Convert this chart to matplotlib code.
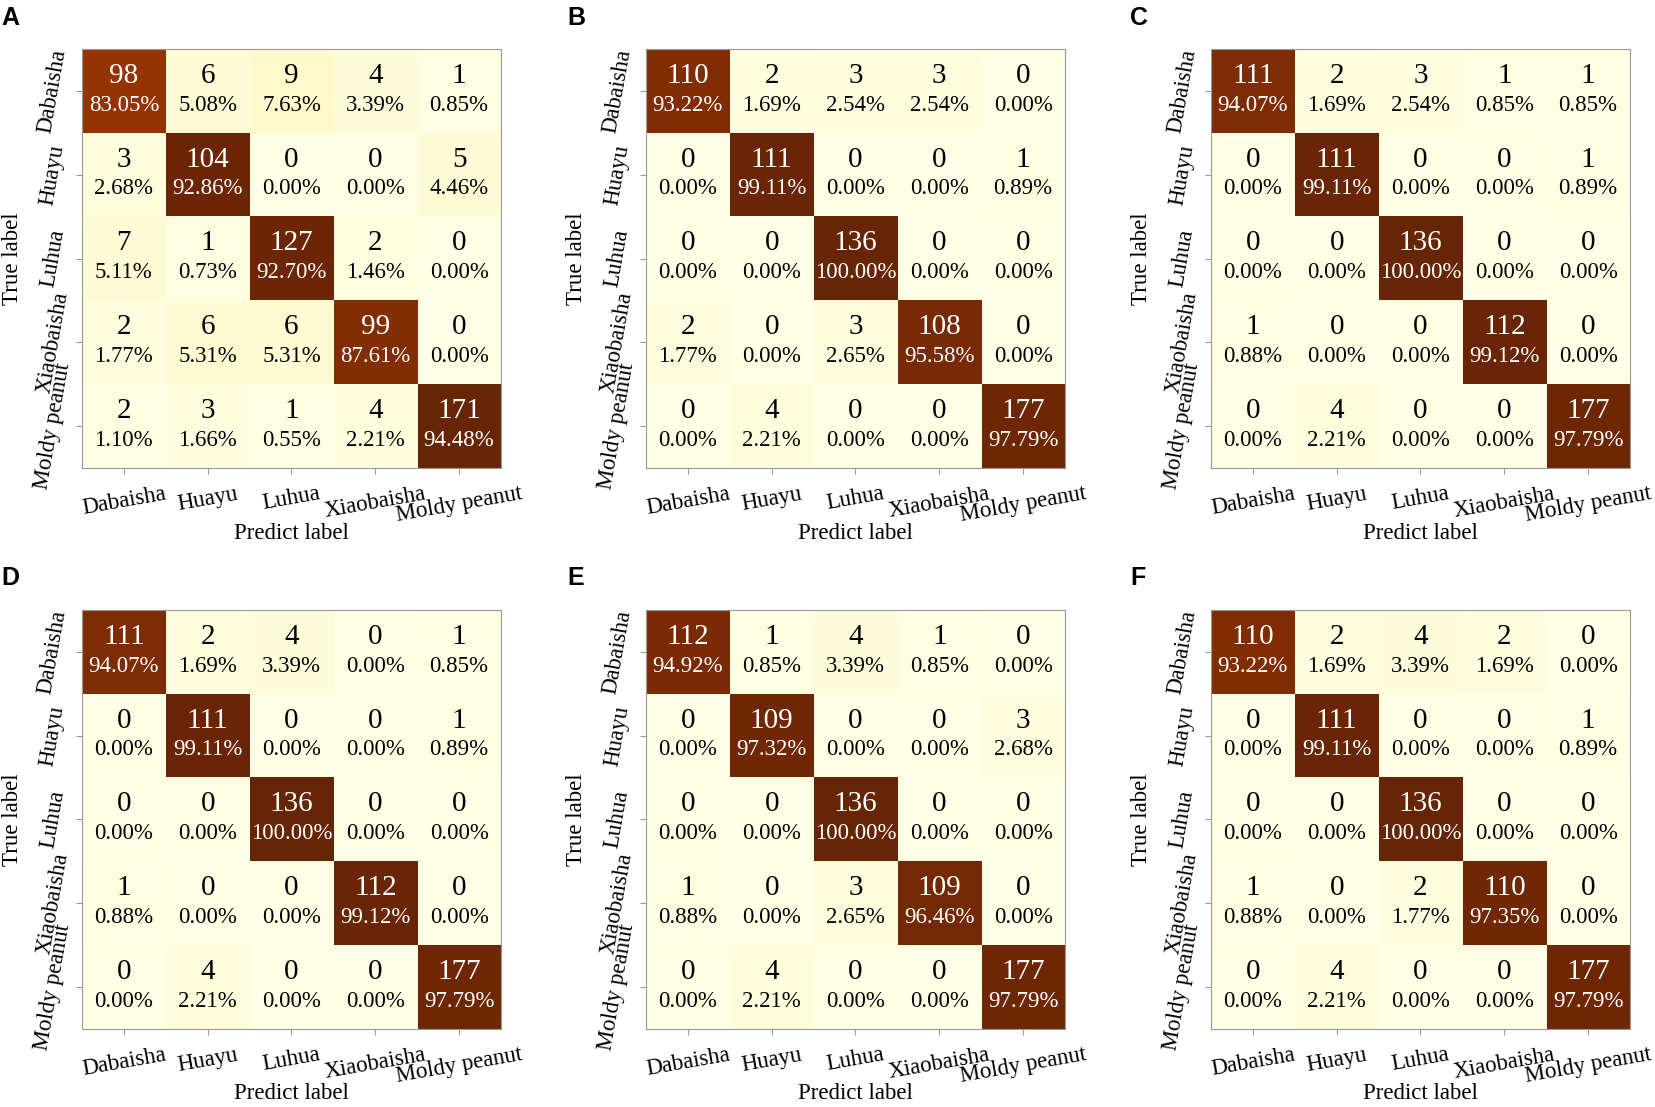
import numpy as np
import matplotlib
matplotlib.use("Agg")
from matplotlib import pyplot as plt

plt.rcParams['font.family'] = ['Liberation Serif', 'DejaVu Serif']

classes = ['Dabaisha', 'Huayu', 'Luhua', 'Xiaobaisha', 'Moldy peanut']
panel_names = ['A', 'B', 'C', 'D', 'E', 'F']

cm_A = [[98, 6, 9, 4, 1],
        [3, 104, 0, 0, 5],
        [7, 1, 127, 2, 0],
        [2, 6, 6, 99, 0],
        [2, 3, 1, 4, 171]]
cm_B = [[110, 2, 3, 3, 0],
        [0, 111, 0, 0, 1],
        [0, 0, 136, 0, 0],
        [2, 0, 3, 108, 0],
        [0, 4, 0, 0, 177]]
cm_C = [[111, 2, 3, 1, 1],
        [0, 111, 0, 0, 1],
        [0, 0, 136, 0, 0],
        [1, 0, 0, 112, 0],
        [0, 4, 0, 0, 177]]
cm_D = [[111, 2, 4, 0, 1],
        [0, 111, 0, 0, 1],
        [0, 0, 136, 0, 0],
        [1, 0, 0, 112, 0],
        [0, 4, 0, 0, 177]]
cm_E = [[112, 1, 4, 1, 0],
        [0, 109, 0, 0, 3],
        [0, 0, 136, 0, 0],
        [1, 0, 3, 109, 0],
        [0, 4, 0, 0, 177]]
cm_F = [[110, 2, 4, 2, 0],
        [0, 111, 0, 0, 1],
        [0, 0, 136, 0, 0],
        [1, 0, 2, 110, 0],
        [0, 4, 0, 0, 177]]
matrices = [cm_A, cm_B, cm_C, cm_D, cm_E, cm_F]

fig = plt.figure(figsize=(16.55, 11.07), dpi=100)

lefts = [0.0495, 0.3903, 0.7317]
bottoms = [0.5772, 0.0705]
w, h = 0.2532, 0.3785
letter_x = [0.001, 0.3426, 0.6829]
letter_y = [0.995, 0.489]

for k, (name, cm) in enumerate(zip(panel_names, matrices)):
    r, c = divmod(k, 3)
    ax = fig.add_axes([lefts[c], bottoms[r], w, h])
    cm = np.array(cm, dtype=float)
    pct = cm / cm.sum(axis=1, keepdims=True) * 100
    ax.imshow(pct, cmap='YlOrBr', vmin=0, vmax=pct.max(), aspect='auto')
    for i in range(5):
        for j in range(5):
            col = 'white' if pct[i, j] > 50 else 'black'
            ax.text(j, i - 0.18, '%d' % cm[i, j], ha='center', va='center',
                    fontsize=21, color=col)
            ax.text(j, i + 0.17, '%.2f%%' % pct[i, j], ha='center', va='center',
                    fontsize=16.5, color=col)
    ax.set_xticks(range(5))
    ax.set_yticks(range(5))
    ax.set_xticklabels(classes, rotation=10, ha='center', fontsize=16.5)
    ax.set_yticklabels(classes, rotation=80, va='center', ha='center', fontsize=16.5)
    ax.tick_params(axis='x', length=4, color='#999999', pad=7)
    ax.tick_params(axis='y', length=4, color='#999999', pad=17)
    for s in ax.spines.values():
        s.set_color('#999999')
        s.set_linewidth(0.8)
    ax.set_xlabel('Predict label', fontsize=16.5)
    ax.set_ylabel('True label', fontsize=16.5)
    ax.xaxis.set_label_coords(0.5, -0.13)
    ax.yaxis.set_label_coords(-0.14, 0.5)
    fig.text(letter_x[c], letter_y[r], name, fontsize=18, fontweight='bold',
             family='Liberation Sans', ha='left', va='top')

fig.savefig('out.png', dpi=100)
